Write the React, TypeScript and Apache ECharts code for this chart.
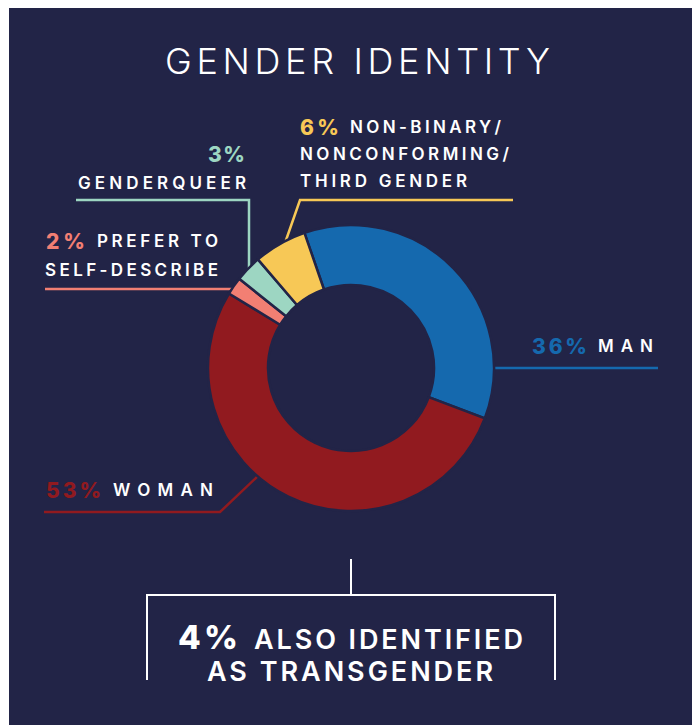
import React, { useEffect, useRef } from 'react';
import * as echarts from 'echarts';

// ---- data ----
const titleText = 'GENDER IDENTITY';
const categories = ['Man', 'Woman', 'Prefer to self-describe', 'Genderqueer', 'Non-binary / nonconforming / third gender'];
const values = [36, 53, 2, 3, 6];
const labelLines: string[][] = [
  ['MAN'],
  ['WOMAN'],
  ['PREFER TO', 'SELF-DESCRIBE'],
  ['GENDERQUEER'],
  ['NON-BINARY/', 'NONCONFORMING/', 'THIRD GENDER'],
];
const transgenderPct = 4;
const transgenderLines = ['ALSO IDENTIFIED', 'AS TRANSGENDER'];

// ---- styles / layout ----
const BG = '#222447';
const colors = ['#1569AE', '#911A1F', '#F27F73', '#9DD6C2', '#F7C856'];
const FONT = 'Inter, "Noto Sans", sans-serif';

type Pos = [number, number, number]; // left x, middle y, target width
const layout: { pct: Pos; lines: Pos[]; leader: number[][] }[] = [
  { pct: [532, 346, 55], lines: [[598, 346, 55]], leader: [[493, 368], [658, 368]] },
  { pct: [46, 490, 55], lines: [[113, 490, 100]], leader: [[258, 476], [220, 512], [44, 512]] },
  { pct: [46, 241, 39], lines: [[97, 241, 121], [45, 269.5, 173]], leader: [[236, 289], [45, 289]] },
  { pct: [208, 154, 37], lines: [[78, 182.5, 168]], leader: [[249, 268], [249, 200], [76, 200]] },
  { pct: [300, 127, 39], lines: [[350, 127, 151], [300, 153.5, 209], [300, 180.5, 167]], leader: [[285, 243], [300, 200], [513, 200]] },
];

type TextItem = { text: string; x: number; y: number; w: number; size: number; weight: number; color: string };

export default function App() {
  const ref = useRef<HTMLDivElement>(null);

  useEffect(() => {
    if (!ref.current) return;
    const chart = echarts.init(ref.current, null, { renderer: 'svg' });

    const texts: TextItem[] = [];
    texts.push({ text: titleText, x: 165, y: 61, w: 385, size: 36, weight: 300, color: '#ffffff' });
    values.forEach((v, i) => {
      const L = layout[i];
      texts.push({ text: `${v}%`, x: L.pct[0], y: L.pct[1], w: L.pct[2], size: 21, weight: 800, color: colors[i] });
      labelLines[i].forEach((t, j) => {
        const p = L.lines[j];
        texts.push({ text: t, x: p[0], y: p[1], w: p[2], size: 17, weight: 600, color: '#ffffff' });
      });
    });
    texts.push({ text: `${transgenderPct}%`, x: 178, y: 637, w: 60, size: 33, weight: 800, color: '#ffffff' });
    texts.push({ text: transgenderLines[0], x: 254, y: 639, w: 269, size: 27, weight: 600, color: '#ffffff' });
    texts.push({ text: transgenderLines[1], x: 207, y: 671.5, w: 286, size: 27, weight: 600, color: '#ffffff' });

    const byText = new Map<string, TextItem>();
    texts.forEach((t) => byText.set(t.text, t));

    const graphics: any[] = [
      { type: 'rect', z: -10, silent: true, shape: { x: 9, y: 8, width: 683, height: 717 }, style: { fill: BG } },
    ];
    layout.forEach((L, i) => {
      graphics.push({
        type: 'polyline',
        silent: true,
        shape: { points: L.leader },
        style: { stroke: colors[i], lineWidth: 2.5, fill: null },
      });
    });
    graphics.push({ type: 'line', silent: true, shape: { x1: 351, y1: 559, x2: 351, y2: 595 }, style: { stroke: '#ffffff', lineWidth: 2 } });
    graphics.push({
      type: 'polyline',
      silent: true,
      shape: { points: [[147, 680], [147, 595], [555, 595], [555, 680]] },
      style: { stroke: '#ffffff', lineWidth: 2, fill: null },
    });
    texts.forEach((t) => {
      graphics.push({
        type: 'text',
        silent: true,
        x: t.x,
        y: t.y,
        style: {
          text: t.text,
          fill: t.color,
          fontSize: t.size,
          fontWeight: t.weight,
          fontFamily: FONT,
          align: 'left',
          verticalAlign: 'middle',
        },
      });
    });

    const option: any = {
      animation: false,
      backgroundColor: '#ffffff',
      graphic: graphics,
      series: [
        {
          type: 'pie',
          silent: true,
          center: [351, 368],
          radius: [83, 143],
          startAngle: 109,
          clockwise: true,
          label: { show: false },
          labelLine: { show: false },
          emphasis: { disabled: true },
          itemStyle: { borderColor: BG, borderWidth: 2.5 },
          data: categories.map((c, i) => ({ name: c, value: values[i], itemStyle: { color: colors[i] } })),
        },
      ],
    };

    const fit = () => {
      const root = ref.current;
      if (!root) return;
      root.querySelectorAll('text').forEach((el: any) => {
        const content = (el.textContent || '').trim();
        const item = byText.get(content);
        if (!item) return;
        el.removeAttribute('letter-spacing');
        el.style.letterSpacing = '0px';
        const len = el.getComputedTextLength();
        const n = content.length;
        const sp = (item.w - len) / Math.max(1, n - 1);
        el.setAttribute('letter-spacing', sp.toFixed(2));
        el.style.letterSpacing = sp.toFixed(2) + 'px';
      });
    };

    chart.on('finished', fit);
    chart.setOption(option);
    fit();

    return () => {
      chart.dispose();
    };
  }, []);

  return <div ref={ref} style={{ position: 'absolute', left: 0, top: 0, width: 692, height: 725 }} />;
}
